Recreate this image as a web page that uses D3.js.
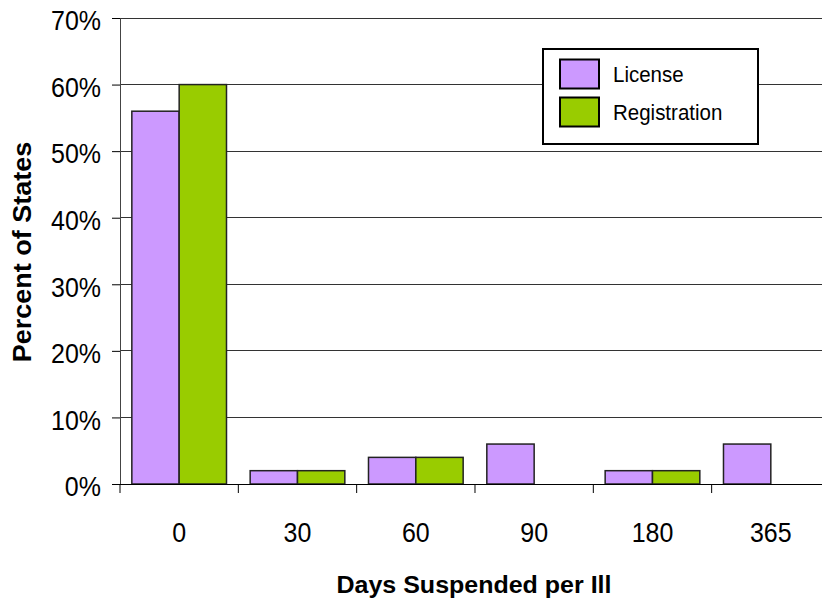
<!DOCTYPE html>
<html>
<head>
<meta charset="utf-8">
<script src="https://cdn.jsdelivr.net/npm/d3@7/dist/d3.min.js"></script>
<style>
  body { margin: 0; background: #fff; }
  svg { display: block; overflow: hidden; }
  text { font-family: "Liberation Sans", Arial, sans-serif; fill: #000; }
</style>
</head>
<body>
<svg id="chart" width="822" height="607"></svg>
<script>
// Days of suspension for a first offence, by share of states
const categories = ["0", "30", "60", "90", "180", "365"];
const seriesNames = ["License", "Registration"];
const licenseValues = [56, 2, 4, 6, 2, 6];
const registrationValues = [60, 2, 4, 0, 2, 0];
const yTicks = [0, 10, 20, 30, 40, 50, 60, 70];
const colors = ["#CC99FF", "#99CC00"];

const svg = d3.select("#chart");
const plotLeft = 120, plotTop = 18, plotBottom = 484, step = 118.33;

const x = d3.scaleBand().domain(categories).range([plotLeft, plotLeft + step * categories.length]);
const xSub = d3.scaleBand().domain(seriesNames).range([0, x.bandwidth()]).paddingOuter(0.25);
const y = d3.scaleLinear().domain([0, 70]).range([plotBottom, plotTop]);

// horizontal gridlines
svg.append("g").selectAll("line").data(yTicks.filter(d => d > 0)).join("line")
  .attr("x1", plotLeft).attr("x2", 822)
  .attr("y1", d => y(d)).attr("y2", d => y(d))
  .attr("stroke", "#333").attr("stroke-width", 1)
  .attr("shape-rendering", "crispEdges");

// bars
const rows = categories.map((c, i) => ({ cat: c, vals: [licenseValues[i], registrationValues[i]] }));
svg.append("g").selectAll("g").data(rows).join("g")
  .attr("transform", d => `translate(${x(d.cat)},0)`)
  .selectAll("rect")
  .data(d => d.vals.map((v, j) => ({ v, name: seriesNames[j], j })).filter(e => e.v > 0))
  .join("rect")
  .attr("x", d => xSub(d.name))
  .attr("width", xSub.bandwidth())
  .attr("y", d => y(d.v))
  .attr("height", d => y(0) - y(d.v))
  .attr("fill", d => colors[d.j])
  .attr("stroke", "#222").attr("stroke-width", 1.5);

// y axis
const yAxis = svg.append("g").attr("transform", `translate(${plotLeft},0)`)
  .call(d3.axisLeft(y).tickValues(yTicks).tickSize(8).tickSizeOuter(0).tickFormat(d => d + "%"));
yAxis.select(".domain").attr("stroke", "#444");
yAxis.selectAll(".tick line").attr("stroke", "#000");
yAxis.selectAll(".tick text")
  .attr("x", -19).attr("dy", "0.42em")
  .attr("transform", "scale(1,1.12)")
  .style("font-size", "25px").style("font-family", "Liberation Sans, Arial, sans-serif");

// x axis
const xAxis = svg.append("g").attr("transform", `translate(0,${plotBottom})`)
  .call(d3.axisBottom(x).tickSize(0).tickSizeOuter(0));
xAxis.select(".domain").attr("stroke", "#000").attr("d", `M${plotLeft},0.5H822`);
xAxis.selectAll(".tick text")
  .attr("y", 0).attr("dy", 0)
  .attr("transform", "translate(0,58) scale(1,1.12)")
  .style("font-size", "25px").style("font-family", "Liberation Sans, Arial, sans-serif");
// boundary ticks between categories
xAxis.append("g").selectAll("line")
  .data(categories.map((c, i) => i)).join("line")
  .attr("x1", i => plotLeft + i * x.step()).attr("x2", i => plotLeft + i * x.step())
  .attr("y1", 0).attr("y2", 9)
  .attr("stroke", "#000");

// axis titles
svg.append("text")
  .attr("transform", "translate(474,593) scale(1,0.94)")
  .attr("text-anchor", "middle")
  .style("font-size", "25px").style("font-weight", "bold")
  .text("Days Suspended per Ill");

svg.append("text")
  .attr("transform", "translate(31,252) rotate(-90) scale(1,0.95)")
  .attr("text-anchor", "middle")
  .style("font-size", "27px").style("font-weight", "bold")
  .text("Percent of States");

// legend
const legend = svg.append("g");
legend.append("rect")
  .attr("x", 543).attr("y", 49).attr("width", 215).attr("height", 95)
  .attr("fill", "#fff").attr("stroke", "#000").attr("stroke-width", 2);
seriesNames.forEach((name, i) => {
  const cy = 74 + i * 38;
  legend.append("rect")
    .attr("x", 560).attr("y", cy - 14.5).attr("width", 39).attr("height", 29)
    .attr("fill", colors[i]).attr("stroke", "#000").attr("stroke-width", 2);
  legend.append("text")
    .attr("transform", `translate(613,${cy + 7.5}) scale(1,1.1)`)
    .style("font-size", "20.5px")
    .text(name);
});
</script>
</body>
</html>
